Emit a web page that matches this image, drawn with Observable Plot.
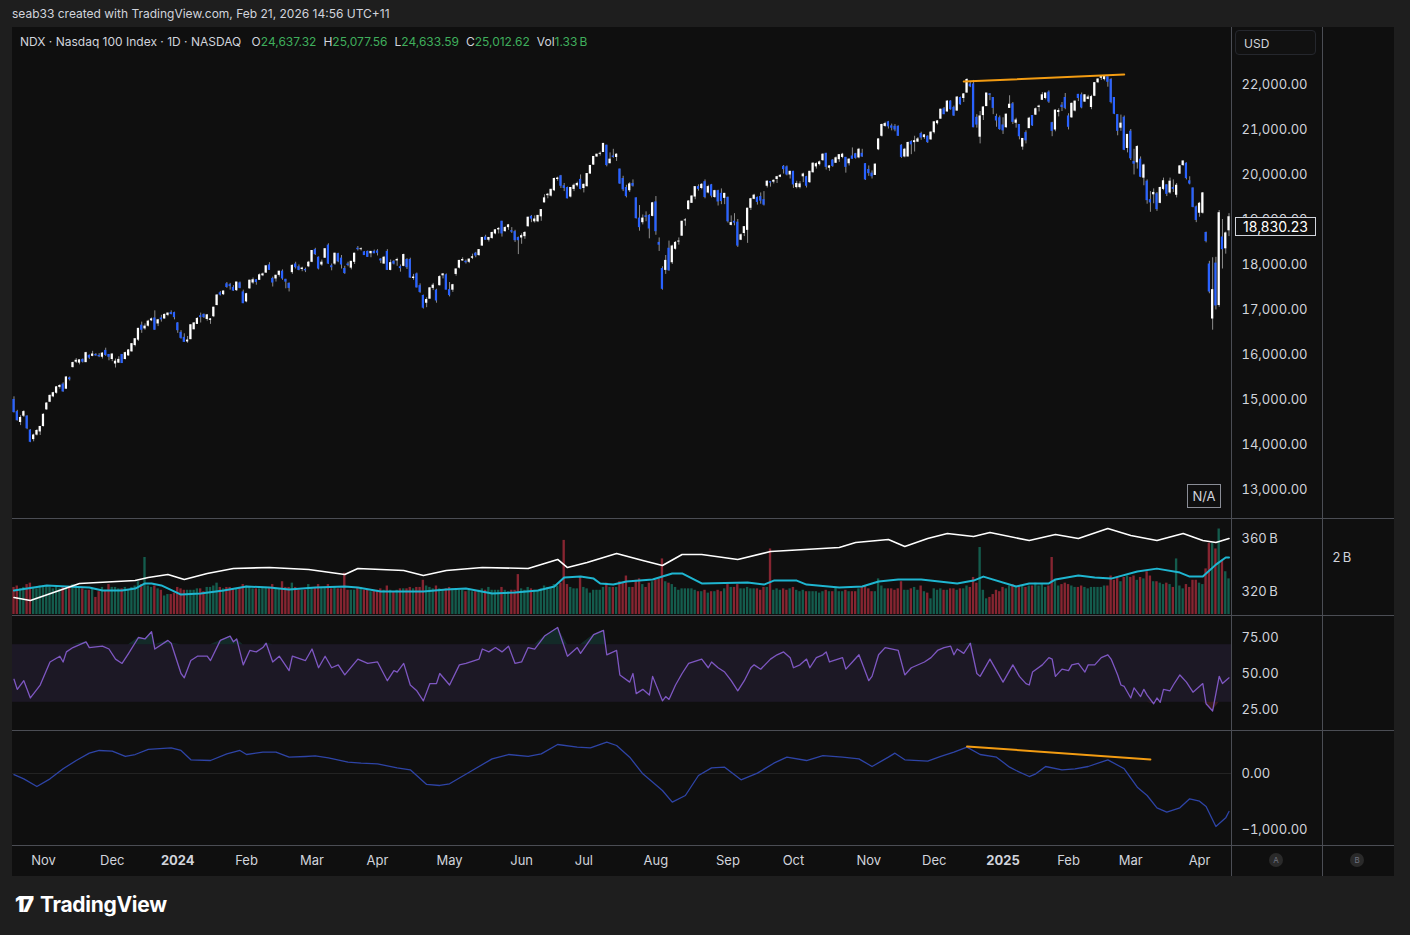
<!DOCTYPE html>
<html><head><meta charset="utf-8">
<script src="https://cdn.jsdelivr.net/npm/d3@7"></script>
<script src="https://cdn.jsdelivr.net/npm/@observablehq/plot@0.6"></script>
<style>
html,body{margin:0;padding:0;background:#1e1e1e;}
#root{position:relative;width:1410px;height:935px;overflow:hidden;background:#1e1e1e;font-family:Inter,Roboto,"Noto Sans",sans-serif;color:#d1d4dc;}
</style></head><body><div id="root"></div>
<script>
// ---------- categories / tick labels ----------
const monthLabels = ["Nov","Dec","2024","Feb","Mar","Apr","May","Jun","Jul","Aug","Sep","Oct","Nov","Dec","2025","Feb","Mar","Apr"];
const monthBars   = [9,30,50,71,91,111,133,155,174,196,218,238,261,281,302,322,341,362];
const yearLabels  = ["2024","2025"];
const priceTicks  = [13000,14000,15000,16000,17000,18000,19000,20000,21000,22000];
const obvTicks    = [320,360];
const volTicks    = [2];
const rsiTicks    = [25,50,75];
const rsiBand     = [30,70];
const macdTicks   = [0,-1000];
const lastPrice   = 18830.23;
const legendKeys  = ["O","H","L","C","Vol"];
const legendVals  = ["24,637.32","25,077.56","24,633.59","25,012.62","1.33\u202fB"];

// ---------- daily candles (Oct 19 2023 .. Apr 14 2025) ----------
const opens = [
 14990,14720,14500,14640,14620,14310,14120,14220,14290,
 14410,14780,14950,15070,15150,15280,15330,15240,15470,15720,15840,15820,15880,15830,15970,15970,15990,15970,15950,16080,15990,
 15900,15800,15820,15990,15900,15980,16070,16210,16330,16640,16580,16640,16760,16800,16690,16800,16800,16880,16920,16920,
 16690,16480,16370,16290,16340,16560,16680,16850,16880,16790,16770,16850,17100,17360,17340,17560,17540,17480,17430,17580,17380,
 17180,17470,17600,17650,17660,17760,17820,17980,17680,17690,17770,17840,17660,17570,17830,18000,17940,17900,17880,17960,
 18060,18320,18150,18000,18150,18420,17960,18020,18230,18130,17900,18000,17930,18060,18350,18340,18270,18280,18250,18280,
 18290,18110,18020,18280,17880,18060,18090,17940,17970,18100,18100,17700,17780,17520,17300,17150,17240,17480,17420,17540,17760,17760,
 17430,17440,17790,17930,18090,18060,18060,18150,18240,18210,18420,18600,18550,18590,18690,18780,18950,18740,18830,18740,18720,18590,
 18600,18630,18850,19060,18960,18960,19070,19380,19540,19530,19650,19900,19960,19740,19700,19510,19680,19760,19880,
 19700,19740,20020,20220,20400,20460,20500,20640,20250,20400,20390,20110,19900,19700,19650,19790,19470,19020,18940,19070,19080,19080,
 19380,18480,17900,17880,18350,18050,18350,18510,18640,18980,19230,19370,19510,19720,19700,19830,19600,19760,19500,19630,19570,19480,
 19480,18880,18950,18930,18550,18700,18770,19260,19460,19480,19500,19430,19750,19830,19840,19900,19950,20170,20160,20000,
 20060,19720,19720,19960,19940,19830,20050,20180,20230,20320,20460,20150,20310,20260,20340,20390,20370,20250,20400,20450,20380,20460,20230,
 20100,20020,19990,20560,20860,21080,21160,21070,21060,21060,20640,20400,20400,20720,20720,20730,20900,20830,20840,20780,
 20940,21140,21240,21450,21400,21620,21480,21420,21700,21700,21820,22000,22000,21260,20840,21320,21520,21780,21700,21280,21250,
 21090,21050,21480,21560,21150,21100,20620,20920,21030,21300,21330,21500,21660,21700,21820,21140,21000,21390,21530,21700,
 21290,21270,21420,21770,21760,21620,21680,21500,21750,22050,22150,22120,22160,22100,21700,21320,21040,21260,20590,
 20950,20280,20270,20330,19930,19840,19430,19560,19560,19370,19680,19760,19600,19700,19550,20020,20210,20240,19850,19690,19270,
 19150,19150,18700,18000,16800,18020,17100,18600,18360,18760
];
const highs = [
 15060,14760,14640,14750,14640,14330,14230,14330,14400,
 14680,14930,15100,15160,15290,15330,15370,15500,15500,15830,15910,15880,15900,16050,15990,16070,16020,16020,16040,16140,16000,
 16010,15900,15950,16000,16050,16110,16240,16350,16580,16720,16680,16760,16810,16970,16780,16870,16900,16920,16970,16940,
 16710,16530,16460,16400,16660,16710,16820,16920,16900,16890,16800,17050,17330,17400,17410,17600,17580,17530,17600,17610,17430,
 17360,17650,17700,17660,17790,17810,17970,18040,17720,17760,17850,17880,17670,17590,17990,18050,17990,17940,17920,18070,
 18310,18360,18170,18100,18350,18460,18010,18250,18250,18200,17960,18050,18060,18250,18400,18370,18290,18300,18290,18320,
 18330,18130,18180,18330,18100,18090,18140,17990,18230,18130,18140,17780,17810,17570,17320,17260,17490,17580,17450,17750,17800,17790,
 17600,17560,17900,18090,18150,18100,18120,18230,18270,18330,18600,18650,18600,18720,18770,18820,18960,18840,18890,18820,18760,18610,
 18680,18730,19050,19090,19080,19090,19220,19550,19580,19670,19920,19940,19980,19800,19720,19710,19790,19830,19990,
 19790,20020,20190,20400,20450,20500,20690,20650,20480,20560,20460,20120,19960,19760,19820,19880,19480,19310,19100,19170,19110,19380,
 19510,18590,17950,18200,18520,18430,18510,18590,18960,19020,19420,19530,19720,19770,19800,19880,19760,19780,19650,19650,19680,19580,
 19500,19080,19130,19000,18680,18840,19250,19470,19560,19500,19590,19620,19860,19840,19880,19960,20000,20200,20190,20070,
 20070,19850,19840,20030,19960,20070,20260,20260,20300,20460,20470,20200,20330,20390,20440,20470,20380,20350,20590,20470,20580,20560,20240,
 20190,20080,20230,20790,21120,21160,21180,21120,21110,21080,20660,20580,20720,20750,20850,20820,20940,20880,20860,20950,
 21170,21200,21450,21490,21640,21640,21520,21730,21720,21800,22130,22050,22090,21330,21400,21500,21800,21800,21710,21340,21300,
 21260,21340,21750,21600,21250,21110,20800,20970,21270,21310,21480,21540,21820,21800,21860,21160,21430,21460,21600,21800,
 21350,21590,21630,21780,21810,21770,21760,21760,22040,22130,22180,22200,22170,22130,21710,21330,21320,21300,20890,
 21000,20560,20640,20390,20230,19880,19620,19680,19600,19720,19920,19770,19920,19880,19800,20200,20300,20260,19950,19700,19300,
 19380,19600,18720,18070,18150,18160,19200,19000,18720,19130
];
const lows = [
 14700,14520,14420,14600,14330,14040,14060,14190,14200,
 14390,14760,14930,15040,15120,15230,15160,15230,15410,15700,15800,15770,15810,15820,15890,15950,15960,15930,15900,15960,15860,
 15840,15700,15800,15800,15880,15960,16050,16170,16290,16470,16540,16610,16730,16540,16620,16720,16790,16840,16880,16770,
 16470,16340,16270,16250,16330,16550,16670,16700,16800,16740,16670,16820,17080,17300,17310,17470,17430,17400,17400,17460,17130,
 17150,17450,17560,17540,17650,17730,17800,17870,17500,17610,17720,17650,17460,17390,17780,17900,17860,17840,17820,17930,
 18040,18200,17880,17960,18140,18000,17860,17980,18040,17900,17780,17950,17880,18000,18300,18300,18200,18160,18150,18240,
 18190,18020,18010,17870,17860,17990,17960,17830,17950,17890,17690,17650,17480,17360,17010,17040,17230,17420,17140,17520,17680,17440,
 17280,17380,17740,17900,18070,18010,18020,18110,18150,18180,18410,18540,18500,18560,18660,18680,18610,18720,18760,18690,18490,18220,
 18450,18560,18830,18930,18920,18930,18960,19370,19460,19500,19620,19850,19690,19620,19460,19480,19620,19720,19660,
 19590,19720,20010,20200,20380,20410,20490,20170,20240,20360,20290,19780,19620,19480,19600,19720,19010,18740,18880,18950,18570,19060,
 18650,18290,17430,17780,17850,18000,18320,18430,18630,18850,19210,19360,19440,19630,19660,19460,19570,19480,19470,19300,19330,19330,
 18920,18860,18860,18380,18530,18620,18470,19200,19440,19320,19340,19300,19700,19720,19790,19800,19930,20010,19970,19900,
 19690,19680,19680,19820,19700,19800,20030,20120,20190,20290,20100,20070,20160,20250,20270,20350,20030,20190,20340,20340,20350,20380,19870,
 19960,19900,19980,20530,20830,21050,21010,20970,20950,20850,20360,20370,20390,20440,20500,20710,20760,20780,20690,20760,
 20900,21100,21230,21330,21390,21430,21290,21410,21540,21600,21810,21930,21040,21030,20680,21200,21510,21640,21330,21050,20980,
 20890,21030,21470,21110,21030,20770,20540,20680,21020,21070,21310,21390,21650,21660,21580,20840,20950,21280,21400,21440,
 20990,21250,21390,21620,21460,21600,21660,21440,21730,22020,22090,22080,21940,21570,21330,20860,20960,20530,20480,
 20310,19990,20120,19930,19750,19340,19160,19350,19180,19350,19640,19510,19560,19600,19480,20000,20180,19880,19770,19260,18930,
 19050,19120,18480,17350,16540,16990,17050,17900,18230,18620
];
const closes = [
 14720,14540,14590,14720,14360,14060,14200,14300,14390,
 14660,14910,15080,15140,15270,15300,15180,15490,15450,15810,15860,15870,15840,16030,15930,16000,15980,15960,16020,15990,15950,
 16000,15840,15880,15810,16030,16090,16230,16340,16570,16550,16620,16730,16780,16550,16760,16780,16880,16910,16900,16830,
 16540,16370,16280,16310,16650,16690,16790,16830,16830,16870,16780,17040,17310,17330,17400,17500,17520,17420,17600,17480,17140,
 17340,17640,17650,17610,17760,17780,17960,17880,17600,17750,17840,17690,17620,17480,17970,17940,17880,17910,17870,18040,
 18300,18230,17910,18040,18340,18020,17940,18240,18070,18000,17810,17990,18060,18240,18340,18340,18210,18170,18280,18250,
 18260,18090,18150,17880,18030,18020,18100,17920,18210,17940,17710,17710,17490,17390,17040,17210,17470,17530,17200,17720,17780,17440,
 17320,17540,17890,18080,18100,18050,18110,18160,18200,18320,18590,18550,18590,18700,18760,18790,18690,18810,18870,18730,18540,18540,
 18630,18700,19040,19020,19000,19080,19210,19470,19550,19660,19900,19910,19750,19700,19470,19700,19750,19790,19680,
 19770,20010,20190,20390,20440,20460,20680,20210,20330,20390,20440,19800,19670,19520,19780,19750,19030,18830,19020,19060,18800,19360,
 18740,18440,17460,18080,17870,18400,18480,18510,18950,18980,19400,19510,19720,19680,19770,19500,19720,19530,19630,19400,19410,19570,
 18960,18920,18930,18420,18650,18830,19240,19450,19530,19390,19420,19330,19840,19820,19860,19940,19970,20120,20000,20060,
 19780,19790,19780,20000,19750,20060,20240,20230,20270,20440,20170,20180,20190,20360,20430,20440,20170,20330,20350,20370,20550,20400,19890,
 20030,19960,20220,20780,21100,21120,21070,21040,21000,20860,20390,20550,20700,20670,20740,20780,20820,20870,20720,20930,
 21160,21180,21440,21340,21620,21450,21310,21710,21560,21780,22100,21960,21050,21110,21290,21490,21800,21770,21480,21200,21010,
 20980,21330,21550,21170,21200,20850,20790,20760,21240,21090,21450,21510,21760,21800,21620,20970,21420,21410,21500,21480,
 21060,21570,21620,21700,21490,21760,21710,21720,22030,22110,22170,22180,22060,21610,21350,20970,21130,20550,20880,
 20360,20240,20610,19950,20200,19430,19380,19590,19230,19700,19850,19570,19840,19680,19750,20180,20290,19920,19800,19280,18990,
 19350,19580,18520,17400,17430,17090,19140,18340,18690,19050
];
// volume (billions)
const volumes = [
 0.95,1.0,0.9,0.95,1.05,1.1,0.95,0.9,1.0,
 1.0,1.0,0.95,0.9,0.95,0.9,0.95,0.9,0.95,1.05,1.0,0.95,0.9,0.85,0.85,0.9,0.6,0.8,0.95,0.85,1.05,
 0.95,0.95,0.9,0.9,0.95,0.85,0.95,1.0,1.15,1.05,2.0,1.0,0.95,1.0,0.9,0.85,0.65,0.7,0.7,0.75,
 0.95,0.9,0.85,0.85,0.85,0.85,0.9,0.9,0.8,0.95,0.95,1.0,1.1,0.95,0.9,0.95,0.95,0.9,0.9,0.95,1.05,
 1.0,0.95,0.9,0.9,0.9,0.95,0.95,0.95,1.05,0.9,0.9,1.15,0.95,0.95,1.1,0.95,0.85,0.85,0.85,1.05,
 0.95,0.95,1.05,0.95,0.95,1.05,0.9,0.95,0.9,0.9,1.45,0.85,0.85,0.85,0.95,0.95,0.85,0.85,0.8,0.85,
 0.85,0.9,0.85,1.0,0.85,0.8,0.85,0.9,0.9,0.9,0.95,0.9,0.95,0.95,1.2,1.0,0.95,0.9,1.0,0.9,0.85,0.9,
 0.95,0.9,0.9,0.85,0.85,0.8,0.85,0.8,0.8,0.85,0.9,0.85,0.95,0.85,0.85,0.85,0.95,0.85,0.8,0.85,0.85,1.4,
 0.9,0.85,0.95,0.9,0.85,0.85,0.9,1.0,0.95,0.95,1.05,1.0,1.1,2.6,1.05,0.95,0.9,0.9,1.3,
 0.95,0.9,0.75,0.85,0.85,0.85,0.95,1.1,0.95,0.95,0.95,1.15,1.1,1.35,0.95,0.95,1.2,1.25,1.05,0.95,1.1,1.15,
 1.2,1.25,1.95,1.15,1.1,1.05,0.95,0.85,0.9,0.9,0.9,0.9,0.85,0.8,0.8,0.85,0.75,0.8,0.8,0.85,0.8,0.9,
 1.05,0.95,0.95,1.05,0.9,0.9,0.95,0.9,0.9,0.9,0.85,0.95,0.95,2.3,0.85,0.9,0.85,0.9,0.85,0.9,
 0.95,0.85,0.8,0.85,0.8,0.8,0.8,0.8,0.75,0.8,0.85,0.8,0.8,0.95,0.8,0.8,0.85,0.8,0.8,0.8,0.9,0.95,1.0,
 0.9,0.8,0.8,1.25,1.0,0.9,0.9,0.9,0.85,0.9,1.15,0.85,0.85,0.9,0.95,0.85,1.0,0.8,0.75,0.55,
 0.9,0.85,0.9,0.85,0.85,0.9,0.9,0.85,0.9,0.9,1.0,0.95,1.3,1.1,2.35,0.85,0.55,0.6,0.7,0.85,0.8,
 0.95,0.9,1.0,1.05,0.95,1.0,1.0,0.95,1.0,1.0,1.1,1.0,1.05,0.95,1.0,2.0,1.2,1.0,1.05,1.1,
 1.05,1.0,0.95,0.95,1.0,0.95,0.9,0.95,0.95,0.95,0.95,1.0,1.0,1.35,1.2,1.3,1.15,1.3,1.35,
 1.3,1.35,1.2,1.3,1.25,1.5,1.35,1.15,1.15,1.1,1.05,1.1,1.05,0.95,1.95,1.0,0.9,1.05,0.95,1.2,1.2,
 1.1,1.05,1.6,2.5,2.5,2.3,3.0,1.9,1.5,1.25
];
// volume moving average (bar index, billions)
const volMaIdx = [0,10,16,23,27,33,37,40,42,45,51,57,64,71,78,84,92,101,105,112,119,125,132,138,146,153,160,165,168,173,177,179,183,187,195,201,204,210,224,229,232,239,242,252,259,264,270,277,288,293,296,306,310,316,318,325,330,335,343,349,356,359,363,367,370,371];
const volMaVal = [0.84,1.02,0.98,0.95,0.84,0.84,0.91,1.09,1.09,1.02,0.70,0.74,0.84,0.98,0.95,0.88,0.95,0.98,0.95,0.81,0.81,0.81,0.88,0.91,0.74,0.77,0.84,0.98,1.30,1.33,1.26,1.09,1.05,1.16,1.23,1.44,1.44,1.09,1.12,1.05,1.19,1.19,1.05,0.95,0.98,1.16,1.23,1.23,1.09,1.19,1.33,0.98,1.09,1.09,1.23,1.37,1.30,1.26,1.51,1.61,1.47,1.33,1.33,1.75,2.0,2.0];
// cumulative volume line (bar index, billions)
const obvIdx = [0,5,20,37,41,47,52,59,67,78,90,101,105,119,125,132,143,157,166,169,175,184,192,198,204,210,221,231,252,257,267,272,279,285,293,298,310,318,325,334,341,349,357,363,367,371];
const obvVal = [315.5,313.2,326,328.3,330.6,332.8,329.1,333.6,337.4,338.1,336.6,332.8,337.4,335.8,332.1,335.8,338.1,337.4,344.2,338.1,341.9,348.7,343.4,339.6,347.9,347.9,344.2,350.2,353.2,357,359.2,354,360,363.8,361.5,364.5,358.5,363,360,367.5,362.3,358.5,363.8,358.5,357,360];
// RSI (bar index, value)
const rsiIdx = [0,1,3,5,8,11,14,15,16,18,22,23,27,29,31,33,35,38,40,42,43,47,48,51,52,54,56,59,60,63,66,67,68,70,72,74,76,77,79,81,84,85,89,91,93,95,97,99,101,105,108,111,114,116,117,119,121,123,125,127,129,130,133,136,138,142,143,145,147,149,151,153,155,157,159,162,166,169,172,173,177,180,181,184,185,188,189,190,192,194,195,198,199,200,202,204,206,210,212,213,215,217,219,221,223,225,226,228,231,233,235,237,238,240,242,243,245,247,248,249,253,254,256,258,261,262,264,266,270,272,274,278,280,282,284,286,287,288,290,292,294,295,298,300,302,305,307,309,310,311,314,316,317,318,320,322,323,325,327,328,330,332,334,335,337,338,339,341,342,344,345,346,348,349,350,351,353,354,356,358,360,363,364,366,368,369,371];
const rsiVal = [46,39,45,33,42,58,62,58,65,68,72,68,69,67,60,57,64,75,74,79,67,73,71,50,47,59,62,62,59,73,76,72,74,56,66,65,68,71,58,62,52,62,59,67,54,62,54,56,49,60,57,58,45,52,51,57,42,38,31,43,43,50,42,56,57,60,67,65,68,65,69,57,58,68,67,76,82,62,68,64,77,80,63,66,49,44,50,36,39,35,48,31,34,32,42,50,57,60,54,58,54,51,45,38,45,54,56,53,60,63,65,61,54,56,60,54,61,63,65,58,61,53,58,63,45,48,63,68,66,49,54,58,61,66,68,69,63,67,64,71,50,48,60,52,44,56,48,43,42,51,56,61,60,48,53,52,56,57,51,56,56,61,63,60,49,42,41,33,40,34,39,35,29,33,30,39,38,42,49,44,37,43,29,24,48,43,47];
// MACD (bar index, value)
const macdIdx = [0,3,7,11,15,19,23,26,30,34,37,41,48,51,54,60,65,69,71,76,80,84,89,92,96,102,106,111,117,121,126,130,133,139,146,151,157,161,166,172,176,181,184,188,192,198,201,205,209,213,217,222,227,232,236,242,247,253,258,262,267,269,272,279,283,287,291,295,300,304,306,310,312,315,320,324,328,334,339,343,346,349,352,356,359,362,364,367,370,371];
const macdVal = [-20,-95,-232,-95,84,232,363,411,399,304,339,429,458,411,244,232,351,411,339,381,381,292,304,315,280,202,184,173,101,66,-196,-214,-184,23,262,339,304,351,518,470,458,560,500,292,-6,-304,-512,-393,-36,101,113,-113,6,184,292,232,321,292,262,125,292,363,244,220,304,381,470,339,292,113,54,-54,-6,125,66,84,125,244,84,-244,-393,-613,-690,-613,-452,-494,-589,-946,-792,-679];
// drawn trend lines (bar index, value)
const trendPriceIdx = [290,339];
const trendPriceVal = [22067,22222];
const trendMacdIdx  = [291,347];
const trendMacdVal  = [482,250];

// ---------- layout ----------
const FONT = "Inter, Roboto, 'Noto Sans', sans-serif";
const root = document.getElementById("root");
const PL = 12, PW = 1382, MR = 163, INNER = 1219;
const xDomain = [-0.458, 371.76];
const n = closes.length;
const idx = d3.range(n);
const up = i => closes[i] >= opens[i];
const rows = (a, b) => a.map((x, k) => ({x, y: b[k]}));

function el(css, html) {
  const d = document.createElement("div");
  d.style.cssText = "position:absolute;" + css;
  if (html !== undefined) d.innerHTML = html;
  root.appendChild(d);
  return d;
}
function pane(top, height, yDomain, yRange, marks, hideY) {
  const p = Plot.plot({
    width: PW, height, marginLeft: 0, marginRight: MR, marginTop: 0, marginBottom: 0,
    x: {domain: xDomain, range: [0, INNER], axis: null},
    y: yDomain ? (hideY ? {domain: yDomain, range: yRange, axis: null} : {domain: yDomain, range: yRange}) : undefined,
    color: {type: "identity"},
    style: {background: "transparent", color: "#d1d4dc", fontFamily: FONT, fontSize: "13px", overflow: "visible"},
    marks
  });
  p.style.position = "absolute"; p.style.left = PL + "px"; p.style.top = top + "px";
  root.appendChild(p);
  return p;
}
const axisR = (ticks, fmt) => Plot.axisY({anchor: "right", ticks, tickFormat: fmt, tickSize: 0, tickPadding: 10, fontSize: 13, label: null});

// header strip
el("left:12px;top:6px;font-size:12px;color:#d1d4dc;white-space:nowrap;", "seab33 created with TradingView.com, Feb 21, 2026 14:56 UTC+11");
// chart background
el("left:12px;top:27px;width:1382px;height:849px;background:#0f0f0f;");

// price pane
const fmt2 = d3.format(",.2f");
const pricePlot = pane(27, 491, [13000, 22000], [462, 57], [
  Plot.ruleX(idx, {x: i => i, y1: i => lows[i], y2: i => highs[i], stroke: "#8c8c8c", strokeWidth: 1}),
  Plot.rect(idx, {x1: i => i - 0.34, x2: i => i + 0.34, y1: i => opens[i], y2: i => closes[i],
    fill: i => up(i) ? "#ffffff" : "#2962ff", insetTop: -0.5, insetBottom: -0.5}),
  Plot.line(rows(trendPriceIdx, trendPriceVal), {x: "x", y: "y", stroke: "#f39c12", strokeWidth: 2}),
  axisR(priceTicks, fmt2)
]);

// volume pane
pane(519, 96, [0, 2], [95, 38], [
  Plot.rect(idx, {x1: i => i - 0.36, x2: i => i + 0.36, y1: 0, y2: i => volumes[i],
    fill: i => up(i) ? "#145c4d" : "#862531"}),
  Plot.line(rows(volMaIdx, volMaVal), {x: "x", y: "y", stroke: "#1fb6d1", strokeWidth: 2}),
  Plot.text(volTicks, {y: d => d, frameAnchor: "right", dx: 101, textAnchor: "start", text: d => d + "\u202fB", fontSize: 13, fill: "#d1d4dc"})
], true);
pane(519, 96, [320, 360], [72, 19], [
  Plot.line(rows(obvIdx, obvVal), {x: "x", y: "y", stroke: "#ffffff", strokeWidth: 1.6}),
  axisR(obvTicks, d => d + "\u202fB")
]);

// RSI pane
const rsiRows = rows(rsiIdx, rsiVal);
pane(616, 114, [25, 75], [93, 21], [
  Plot.rect([rsiBand], {x1: xDomain[0], x2: xDomain[1], y1: d => d[0], y2: d => d[1], fill: "#7e57c2", fillOpacity: 0.12}),
  Plot.areaY(rsiRows, {x: "x", y1: rsiBand[1], y2: d => Math.max(rsiBand[1], d.y), fill: "#26a69a", fillOpacity: 0.18}),
  Plot.areaY(rsiRows, {x: "x", y1: rsiBand[0], y2: d => Math.min(rsiBand[0], d.y), fill: "#ef5350", fillOpacity: 0.18}),
  Plot.line(rsiRows, {x: "x", y: "y", stroke: "#7e57c2", strokeWidth: 1.3}),
  axisR(rsiTicks, d3.format(".2f"))
]);

// MACD pane
pane(731, 114, [-1000, 0], [98, 42], [
  Plot.ruleY([0], {stroke: "#232323"}),
  Plot.line(rows(macdIdx, macdVal), {x: "x", y: "y", stroke: "#2e44a6", strokeWidth: 1.3}),
  Plot.line(rows(trendMacdIdx, trendMacdVal), {x: "x", y: "y", stroke: "#f39c12", strokeWidth: 2}),
  axisR(macdTicks, fmt2)
]);

// time axis
const monthRows = monthLabels.map((label, k) => ({x: monthBars[k], label}));
pane(845, 30, null, null, [
  Plot.text(monthRows.filter(d => !yearLabels.includes(d.label)), {x: "x", text: "label", fontSize: 13, fill: "#d1d4dc"}),
  Plot.text(monthRows.filter(d => yearLabels.includes(d.label)), {x: "x", text: "label", fontSize: 13, fontWeight: "bold", fill: "#d1d4dc"})
]);

// separators
for (const y of [518, 615, 730, 845]) el(`left:12px;top:${y}px;width:1382px;height:1px;background:#4b4d54;`);
for (const x of [1231, 1322]) el(`left:${x}px;top:27px;width:1px;height:849px;background:#4b4d54;`);

// legend
const legend = legendKeys.map((k, j) => `<span style="margin-left:7px">${k}<span style="color:#3fae5c">${legendVals[j]}</span></span>`).join("");
el("left:20px;top:34px;font-size:12px;color:#d1d4dc;white-space:nowrap;", "NDX · Nasdaq 100 Index · 1D · NASDAQ " + legend);

// USD box, N/A box
el("left:1235px;top:30px;width:81px;height:25px;border:1px solid #25272d;border-radius:4px;background:#111;font-size:12px;line-height:25px;box-sizing:border-box;padding-left:8px;color:#d1d4dc;", "USD");
el("left:1187px;top:484px;width:34px;height:24px;border:1px solid #8a8d96;box-sizing:border-box;font-size:13px;line-height:22px;text-align:center;color:#d1d4dc;", "N/A");

// last price label
const py = 27 + pricePlot.scale("y").apply(lastPrice);
el(`left:1235px;top:${py - 9.5}px;width:81px;height:19px;border:1px solid #d1d4dc;box-sizing:border-box;background:#0f0f0f;font-size:14px;line-height:17px;text-align:center;color:#ffffff;`, fmt2(lastPrice));

// A / B markers
for (const [x, t] of [[1276, "A"], [1357, "B"]]) el(`left:${x - 7}px;top:853px;width:14px;height:14px;border-radius:7px;background:#2a2a2a;color:#6f7280;font-size:8px;line-height:14px;text-align:center;`, t);

// logo
el("left:15px;top:892px;color:#ffffff;font-size:21px;font-weight:700;white-space:nowrap;letter-spacing:-0.3px;",
   '<span style="font-weight:900;letter-spacing:-3px;margin-right:9px">17</span>TradingView');
</script></body></html>
